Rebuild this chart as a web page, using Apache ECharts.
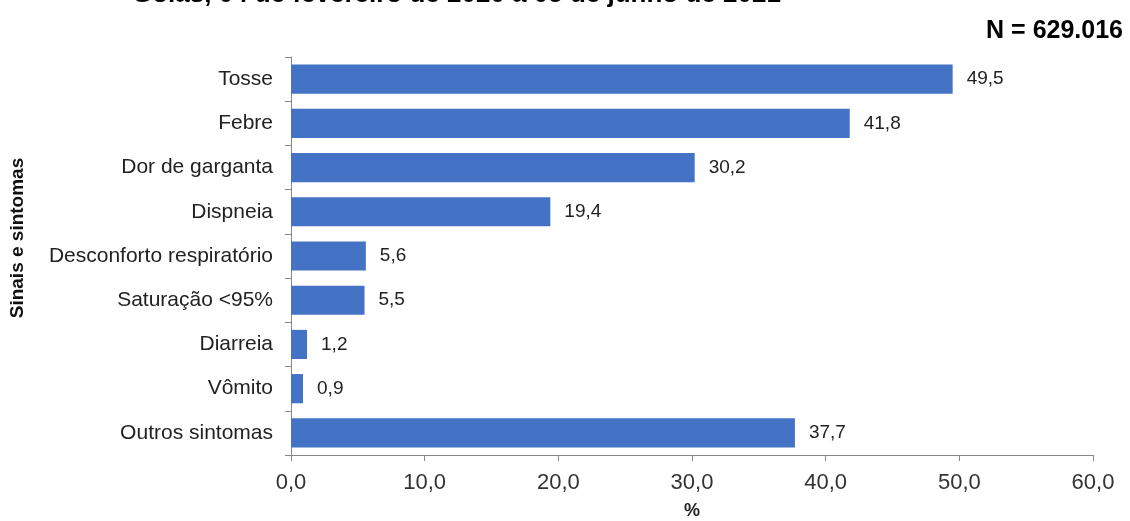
<!DOCTYPE html>
<html>
<head>
<meta charset="utf-8">
<script src="https://cdn.jsdelivr.net/npm/echarts@6/dist/echarts.min.js"></script>
<style>
  html, body { margin: 0; padding: 0; background: #fff; }
  #chart { width: 1130px; height: 521px; }
</style>
</head>
<body>
<div id="chart"></div>
<script>
// dados
var categorias = ["Tosse", "Febre", "Dor de garganta", "Dispneia", "Desconforto respiratório",
  "Saturação <95%", "Diarreia", "Vômito", "Outros sintomas"];
var percentuais = [49.5, 41.8, 30.2, 19.4, 5.6, 5.5, 1.2, 0.9, 37.7];
var xTicks = [0, 10, 20, 30, 40, 50, 60];

var titulo = "Goiás, 04 de fevereiro de 2020 a 05 de junho de 2021";
var nTotal = "N = 629.016";

function fmt(v) {
  return v.toFixed(1).replace(".", ",");
}

var myChart = echarts.init(document.getElementById("chart"));
var option = {
  backgroundColor: "#fff",
  animation: false,
  textStyle: { fontFamily: "Liberation Sans, Arial, sans-serif" },
  graphic: [
    {
      type: "text",
      left: 132,
      top: -18,
      style: {
        text: titulo,
        font: "bold 26px 'Liberation Sans', Arial, sans-serif",
        fill: "#000"
      }
    },
    {
      type: "text",
      right: 7,
      top: 19,
      style: {
        text: nTotal,
        font: "bold 25px 'Liberation Sans', Arial, sans-serif",
        fill: "#000"
      }
    },
    {
      // título do eixo y
      type: "text",
      x: 18,
      y: 238,
      rotation: Math.PI / 2,
      style: {
        text: "Sinais e sintomas",
        font: "bold 19px 'Liberation Sans', Arial, sans-serif",
        fill: "#111",
        align: "center",
        verticalAlign: "middle"
      }
    }
  ],
  grid: {
    left: 291,
    right: 37,
    top: 57,
    bottom: 66,
    outerBoundsMode: "none",
    containLabel: false
  },
  xAxis: {
    type: "value",
    min: 0,
    max: 60,
    interval: 10,
    name: "%",
    nameLocation: "middle",
    nameGap: 47,
    nameTextStyle: { fontWeight: "bold", fontSize: 18, color: "#222" },
    axisLine: { show: true, lineStyle: { color: "#888", width: 1 } },
    axisTick: { show: true, length: 6, lineStyle: { color: "#888" } },
    axisLabel: {
      margin: 17,
      fontSize: 22,
      color: "#333",
      formatter: function (v) { return fmt(v); }
    },
    splitLine: { show: false }
  },
  yAxis: {
    type: "category",
    inverse: true,
    data: categorias,
    axisLine: { show: true, lineStyle: { color: "#888", width: 1 } },
    axisTick: { show: true, length: 6, lineStyle: { color: "#888" } },
    axisLabel: { margin: 18, fontSize: 21, color: "#222" }
  },
  series: [
    {
      type: "bar",
      data: percentuais,
      barCategoryGap: "34%",
      itemStyle: { color: "#4472C4" },
      label: {
        show: true,
        position: "right",
        distance: 14,
        fontSize: 19,
        color: "#222",
        formatter: function (p) { return fmt(p.value); }
      }
    }
  ]
};
myChart.setOption(option);
window.onresize = function () {
  myChart.resize();
};
</script>
</body>
</html>
